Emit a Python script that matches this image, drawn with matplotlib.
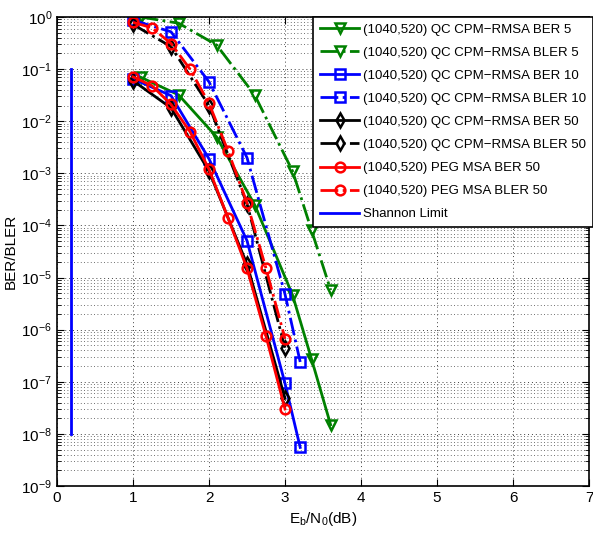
import numpy as np
import matplotlib.pyplot as plt
from matplotlib.ticker import LogLocator, NullFormatter

plt.rcParams['font.family'] = ['Liberation Sans', 'DejaVu Sans']
plt.rcParams['mathtext.fontset'] = 'custom'
plt.rcParams['mathtext.rm'] = 'Liberation Sans'
plt.rcParams['mathtext.it'] = 'Liberation Sans:italic'
plt.rcParams['mathtext.bf'] = 'Liberation Sans:bold'

# Eb/N0 points (dB)
x_qc5 = [1.1, 1.6, 2.1, 2.6, 3.1, 3.35, 3.6]
x_qc10 = [1.0, 1.5, 2.0, 2.5, 3.0, 3.2]
x_qc50 = [1.0, 1.5, 2.0, 2.5, 3.0]
x_peg = [1.0, 1.25, 1.5, 1.75, 2.0, 2.25, 2.5, 2.75, 3.0]

ber_qc5 = [0.07, 0.032, 0.005, 2.5e-4, 4.6e-6, 2.7e-7, 1.5e-8]
bler_qc5 = [1.0, 0.76, 0.29, 0.032, 1.1e-3, 8.0e-5, 5.8e-6]
ber_qc10 = [0.065, 0.031, 1.9e-3, 5.1e-5, 9.3e-8, 5.5e-9]
bler_qc10 = [0.87, 0.52, 0.057, 2.0e-3, 4.8e-6, 2.4e-7]
ber_qc50 = [0.06, 0.018, 1.1e-3, 1.8e-5, 4.8e-8]
bler_qc50 = [0.72, 0.27, 0.02, 2.6e-4, 4.5e-7]
ber_peg = [0.071, 0.048, 0.021, 6.3e-3, 1.2e-3, 1.4e-4, 1.5e-5, 7.5e-7, 3.0e-8]
bler_peg = [0.79, 0.62, 0.31, 0.10, 0.022, 2.7e-3, 2.7e-4, 1.5e-5, 6.7e-7]

shannon_x = [0.187, 0.187]
shannon_y = [1e-1, 1e-8]

fig = plt.figure(figsize=(5.93, 5.35), dpi=100)
ax = fig.add_axes([57 / 593, 1 - 486 / 535, 532 / 593, 469 / 535])

style = dict(mfc='none', ms=7, mew=1.8, lw=2)
ax.semilogy(x_qc5, ber_qc5, '-', color='#008000', marker='v',
            label='(1040,520) QC CPM\u2212RMSA BER 5', **style)
ax.semilogy(x_qc5, bler_qc5, '-.', color='#008000', marker='v',
            label='(1040,520) QC CPM\u2212RMSA BLER 5', **style)
ax.semilogy(x_qc10, ber_qc10, '-', color='#0000ff', marker='s',
            label='(1040,520) QC CPM\u2212RMSA BER 10', **style)
ax.semilogy(x_qc10, bler_qc10, '-.', color='#0000ff', marker='s',
            label='(1040,520) QC CPM\u2212RMSA BLER 10', **style)
ax.semilogy(x_qc50, ber_qc50, '-', color='k', marker='d',
            label='(1040,520) QC CPM\u2212RMSA BER 50', **style)
ax.semilogy(x_qc50, bler_qc50, '-.', color='k', marker='d',
            label='(1040,520) QC CPM\u2212RMSA BLER 50', **style)
ax.semilogy(x_peg, ber_peg, '-', color='#ff0000', marker='o',
            label='(1040,520) PEG MSA BER 50', **style)
ax.semilogy(x_peg, bler_peg, '-.', color='#ff0000', marker='o',
            label='(1040,520) PEG MSA BLER 50', **style)
ax.semilogy(shannon_x, shannon_y, '-', color='#0000ff', lw=2,
            label='Shannon Limit')

ax.set_xlim(0, 7)
ax.set_ylim(1e-9, 1)
ax.set_xticks(range(8))
ax.set_yticks([10.0 ** -k for k in range(10)])
ax.yaxis.set_minor_locator(LogLocator(base=10, subs=np.arange(2, 10), numticks=20))
ax.yaxis.set_minor_formatter(NullFormatter())
ax.grid(which='major', ls=(0, (1, 3)), color='0.25', lw=0.7)
ax.grid(which='minor', axis='y', ls=(0, (1, 3)), color='0.25', lw=0.6)
ax.tick_params(direction='in', which='both', top=True, right=True,
               labelsize=11, length=5)
ax.tick_params(which='minor', length=3)
for sp in ax.spines.values():
    sp.set_linewidth(1.2)

ax.set_xlabel(r'E$_\mathrm{b}$/N$_\mathrm{0}$(dB)', fontsize=11)
ax.set_ylabel('BER/BLER', fontsize=11)
ax.yaxis.set_label_coords(-0.074, 0.5)

leg = ax.legend(loc='upper right', bbox_to_anchor=(1.0, 1 - 17 / 535),
                bbox_transform=fig.transFigure, borderaxespad=0,
                fontsize=9.5, handlelength=3.0, handletextpad=0.3,
                labelspacing=0.82, borderpad=0.5,
                fancybox=False, framealpha=1, edgecolor='k')
leg.get_frame().set_linewidth(1.2)

fig.savefig('out.png', dpi=100)
